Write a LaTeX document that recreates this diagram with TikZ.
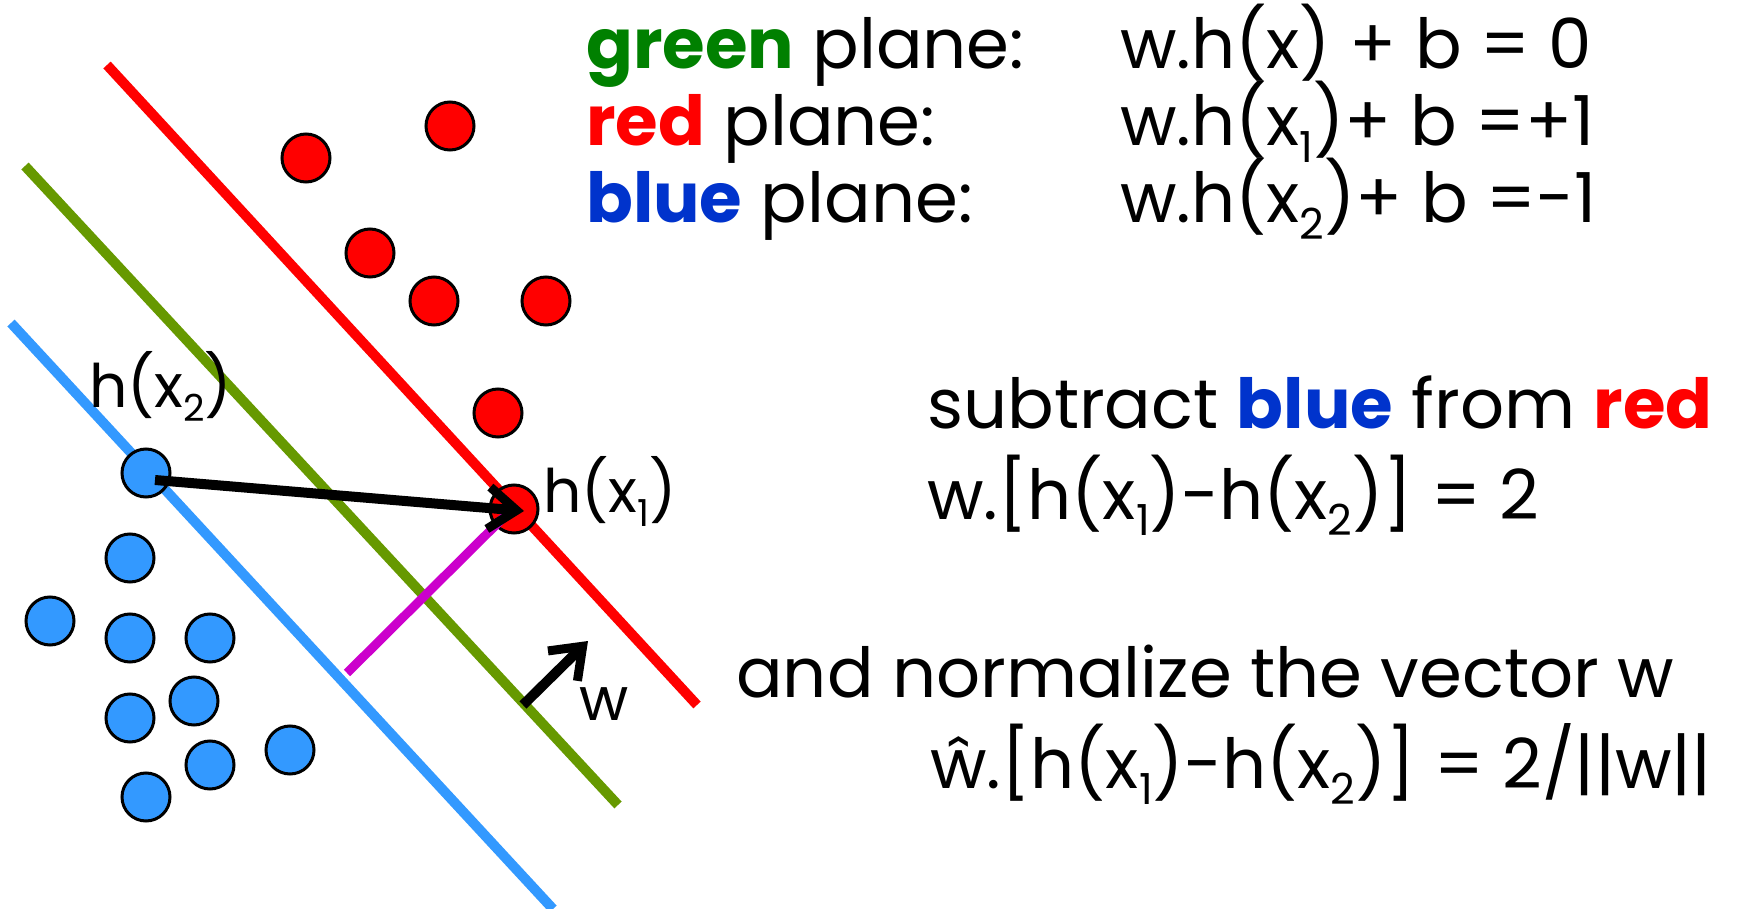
\documentclass[tikz,border=0pt]{standalone}
\usepackage{fontspec}
\usepackage{graphicx}
\setmainfont{Poppins}
\usetikzlibrary{arrows.meta}
\definecolor{lred}{HTML}{FF0000}
\definecolor{lgreen}{HTML}{669900}
\definecolor{lblue}{HTML}{3399FF}
\definecolor{lmag}{HTML}{CC00CC}
\definecolor{tgreen}{HTML}{008000}
\definecolor{tred}{HTML}{FF0000}
\definecolor{tblue}{HTML}{0033CC}
\newcommand{\sbs}[1]{\raisebox{-0.24em}{\scalebox{0.62}{#1}}}
\begin{document}
\begin{tikzpicture}[x=1pt,y=-1pt,
  plane/.style={line width=10pt},
  rdot/.style={circle,draw=black,line width=3pt,fill=lred,minimum size=48pt,inner sep=0pt},
  bdot/.style={circle,draw=black,line width=3pt,fill=lblue,minimum size=48pt,inner sep=0pt},
  txt/.style={anchor=base west,inner sep=0pt,font=\fontsize{69}{79}\selectfont},
  lbl/.style={anchor=base west,inner sep=0pt,font=\fontsize{60}{70}\selectfont},
  vec/.style={line width=10pt,-{Straight Barb[length=28pt,width=42pt,line width=9pt]}}]
\useasboundingbox (0,0) rectangle (1762,909);
% planes
\coordinate (r0) at (107,65);  \coordinate (r1) at (697,705);
\coordinate (g0) at (25,166);  \coordinate (g1) at (618,805);
\coordinate (b0) at (11,323);  \coordinate (b1) at (553,909);
\draw[plane,lred] (r0) -- (r1);
\draw[plane,lgreen] (g0) -- (g1);
\draw[plane,lblue] (b0) -- (b1);
% red points
\node[rdot] (ra) at (306,158) {};
\node[rdot] (rb) at (450,126) {};
\node[rdot] (rc) at (370,253) {};
\node[rdot] (rd) at (434,301) {};
\node[rdot] (re) at (546,301) {};
\node[rdot] (rf) at (498,413) {};
\node[rdot] (h1) at (514,509) {};
% blue points
\node[bdot] (h2) at (146,473) {};
\node[bdot] (ba) at (130,558) {};
\node[bdot] (bb) at (50,621) {};
\node[bdot] (bc) at (130,638) {};
\node[bdot] (bd) at (210,638) {};
\node[bdot] (be) at (194,701) {};
\node[bdot] (bf) at (130,718) {};
\node[bdot] (bg) at (290,750) {};
\node[bdot] (bh) at (210,765) {};
\node[bdot] (bi) at (146,797) {};
% vectors
\coordinate (m0) at (347,673); \coordinate (m1) at (508,513);
\draw[line width=9pt,lmag] (m0) -- (m1);
\coordinate (a0) at (155,480); \coordinate (a1) at (524,511);
\draw[vec] (a0) -- (a1);
\coordinate (w0) at (523,705); \coordinate (w1) at (588,641);
\draw[vec] (w0) -- (w1);
% labels
\node[lbl] (lh2) at (89,407) {h(x\sbs{2})};
\node[lbl] (lh1) at (543,512) {h(x\sbs{1})};
\node[lbl] (lw) at (579,720) {w};
% equations
\node[txt] (e1a) at (586,69) {\textcolor{tgreen}{\bfseries green} plane:};
\node[txt] (e1b) at (1120,69) {w.h(x) + b = 0};
\node[txt] (e2a) at (586,146) {\textcolor{tred}{\bfseries red} plane:};
\node[txt] (e2b) at (1120,146) {w.h(x\sbs{1})+ b =+1};
\node[txt] (e3a) at (586,223) {\textcolor{tblue}{\bfseries blue} plane:};
\node[txt] (e3b) at (1120,223) {w.h(x\sbs{2})+ b =-1};
\node[txt] (s1) at (927,428) {subtract \textcolor{tblue}{\bfseries blue} from \textcolor{tred}{\bfseries red}};
\node[txt] (s2) at (927,519) {w.[h(x\sbs{1})-h(x\sbs{2})] = 2};
\node[txt] (n1) at (736,697) {and normalize the vector w};
\node[txt] (n2) at (930,788) {ŵ.[h(x\sbs{1})-h(x\sbs{2})] = 2/||w||};
\end{tikzpicture}
\end{document}
